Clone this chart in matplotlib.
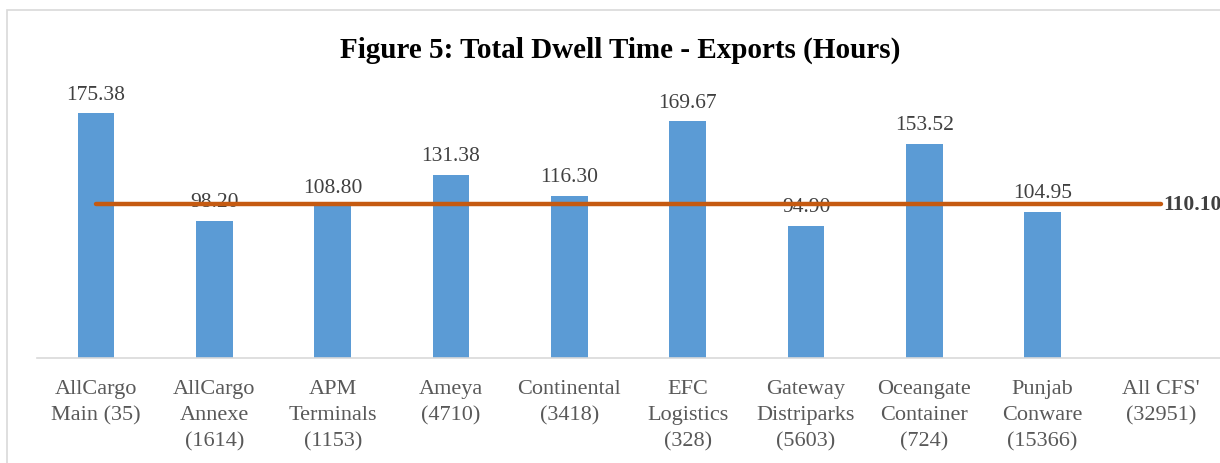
import matplotlib
matplotlib.use("Agg")
import matplotlib.pyplot as plt
from matplotlib.patches import Rectangle

categories = ["AllCargo\nMain (35)", "AllCargo\nAnnexe\n(1614)", "APM\nTerminals\n(1153)",
              "Ameya\n(4710)", "Continental\n(3418)", "EFC\nLogistics\n(328)",
              "Gateway\nDistriparks\n(5603)", "Oceangate\nContainer\n(724)",
              "Punjab\nConware\n(15366)", "All CFS'\n(32951)"]
values = [175.38, 98.20, 108.80, 131.38, 116.30, 169.67, 94.90, 153.52, 104.95]
average = 110.10
title = "Figure 5: Total Dwell Time - Exports (Hours)"

plt.rcParams['font.family'] = ['Liberation Serif', 'DejaVu Serif']

W, H = 1220, 464
fig = plt.figure(figsize=(W / 100, H / 100), dpi=100)

# outer chart border
fig.patches.append(Rectangle((7 / W, -0.1), 1.2, (H - 11) / H + 0.1, transform=fig.transFigure,
                             fill=False, edgecolor="#D9D9D9", linewidth=1.2))

left, right = 37, 1220
bottom_px, top_px = 359, 80
ymax = 200
ax = fig.add_axes([left / W, (H - bottom_px) / H, (right - left) / W, (bottom_px - top_px) / H])
ax.set_xlim(-0.5, len(categories) - 0.5)
ax.set_ylim(0, ymax)

x = list(range(len(values)))
ax.bar(x, values, width=0.31, color="#5B9BD5", zorder=2)
for xi, v in zip(x, values):
    ax.annotate(f"{v:.2f}", (xi, v), xytext=(0, 7), textcoords="offset points",
                ha="center", va="bottom", fontsize=15.5, color="#404040", zorder=3)

ax.plot([0, len(categories) - 1], [average, average], color="#C55A11", linewidth=3.2,
        solid_capstyle="round", zorder=4)
ax.annotate(f"{average:.2f}", (len(categories) - 1, average), xytext=(2, 0),
            textcoords="offset points", ha="left", va="center", fontsize=15.5,
            fontweight="bold", color="#404040", annotation_clip=False)

for s in ["top", "left", "right"]:
    ax.spines[s].set_visible(False)
ax.spines["bottom"].set_color("#D9D9D9")
ax.spines["bottom"].set_linewidth(1.2)
ax.set_yticks([])
ax.set_xticks(range(len(categories)))
ax.set_xticklabels(categories, fontsize=16, color="#595959", linespacing=1.5)
ax.tick_params(axis="x", length=0, pad=15)

fig.text(620 / W, 1 - 50 / H, title, ha="center", va="center", fontsize=21,
         fontweight="bold", color="black")

fig.savefig("out.png", dpi=100)
